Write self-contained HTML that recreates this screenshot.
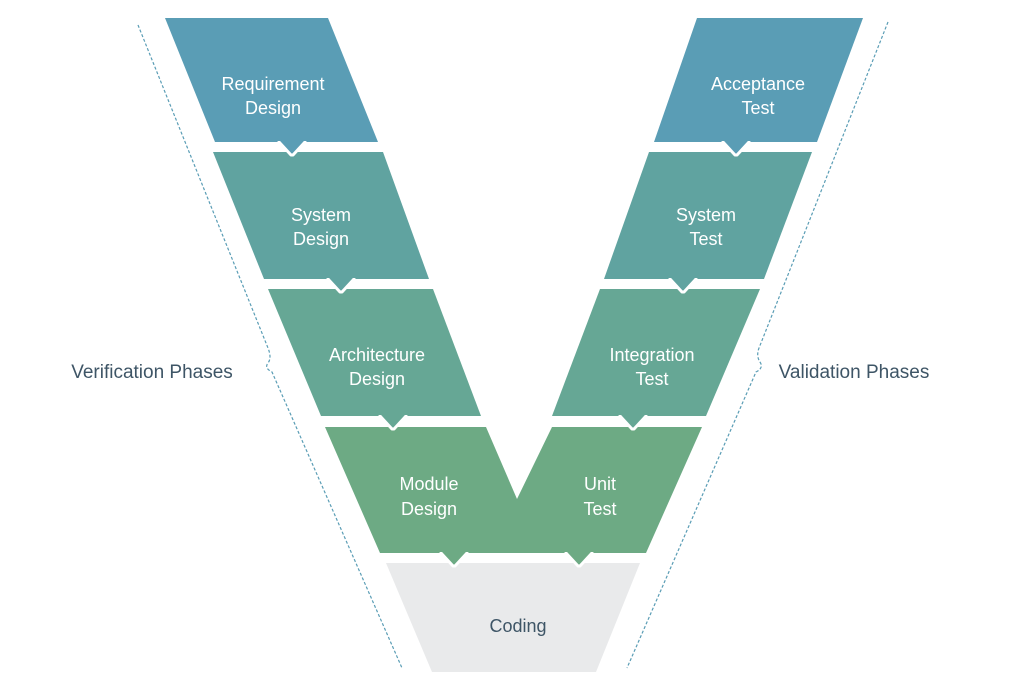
<!DOCTYPE html>
<html><head><meta charset="utf-8"><style>
html,body{margin:0;padding:0;background:#fff;}
svg{display:block;}
text{font-family:"Liberation Sans","DejaVu Sans",sans-serif;font-size:18px;fill:#fff;text-anchor:middle;}
.d{fill:#3e5566;font-size:19px;}
</style></head><body>
<svg width="1024" height="679" viewBox="0 0 1024 679">
<!-- dashed brackets -->
<path d="M138,25 L268,348 Q272,358 268,363 Q264,368 272,372 L402,668" fill="none" stroke="#5a9db5" stroke-width="1.2" stroke-dasharray="3,2"/>
<path d="M888,22 L759,348 Q756,356 760,362 Q764,368 756,372 L627,668" fill="none" stroke="#5a9db5" stroke-width="1.2" stroke-dasharray="3,2"/>

<polygon points="165,18 328,18 378,142 215,142" fill="#5a9db5"/>
<polygon points="213,152 383,152 429,279 264,279" fill="#60a3a0"/>
<polygon points="268,289 433,289 481,416 321,416" fill="#66a795"/>
<polygon points="697,18 863,18 817,142 654,142" fill="#5a9db5"/>
<polygon points="649,152 812,152 764,279 604,279" fill="#60a3a0"/>
<polygon points="600,289 760,289 706,416 552,416" fill="#66a795"/>
<polygon points="325,427 486,427 517,499 552,427 702,427 646,553 380,553" fill="#6daa84"/>
<polygon points="386,563 640,563 596,672 432,672" fill="#e9eaeb"/>

<!-- notches -->
<g stroke="#fff" stroke-width="3" stroke-linejoin="round" stroke-linecap="round">
<path d="M279,142 L291,155 L293,155 L305,142" fill="#5a9db5"/>
<path d="M328,279 L340,292 L342,292 L354,279" fill="#60a3a0"/>
<path d="M380,416 L392,429 L394,429 L406,416" fill="#66a795"/>
<path d="M723,142 L735,155 L737,155 L749,142" fill="#5a9db5"/>
<path d="M670,279 L682,292 L684,292 L696,279" fill="#60a3a0"/>
<path d="M620,416 L632,429 L634,429 L646,416" fill="#66a795"/>
<path d="M441,553 L453,566 L455,566 L467,553" fill="#6daa84"/>
<path d="M566,553 L578,566 L580,566 L592,553" fill="#6daa84"/>
</g>
<g>
<rect x="276" y="136" width="32" height="5" fill="#5a9db5"/>
<rect x="325" y="273" width="32" height="5" fill="#60a3a0"/>
<rect x="377" y="410" width="32" height="5" fill="#66a795"/>
<rect x="720" y="136" width="32" height="5" fill="#5a9db5"/>
<rect x="667" y="273" width="32" height="5" fill="#60a3a0"/>
<rect x="617" y="410" width="32" height="5" fill="#66a795"/>
<rect x="438" y="547" width="32" height="5" fill="#6daa84"/>
<rect x="563" y="547" width="32" height="5" fill="#6daa84"/>
</g>

<text x="273" y="90">Requirement</text><text x="273" y="114">Design</text>
<text x="321" y="221">System</text><text x="321" y="245">Design</text>
<text x="377" y="361">Architecture</text><text x="377" y="385">Design</text>
<text x="429" y="490">Module</text><text x="429" y="515">Design</text>
<text x="758" y="90">Acceptance</text><text x="758" y="114">Test</text>
<text x="706" y="221">System</text><text x="706" y="245">Test</text>
<text x="652" y="361">Integration</text><text x="652" y="385">Test</text>
<text x="600" y="490">Unit</text><text x="600" y="515">Test</text>
<text x="518" y="632" style="fill:#3e5566">Coding</text>

<text class="d" x="152" y="378">Verification Phases</text>
<text class="d" x="854" y="378">Validation Phases</text>
</svg>
</body></html>
